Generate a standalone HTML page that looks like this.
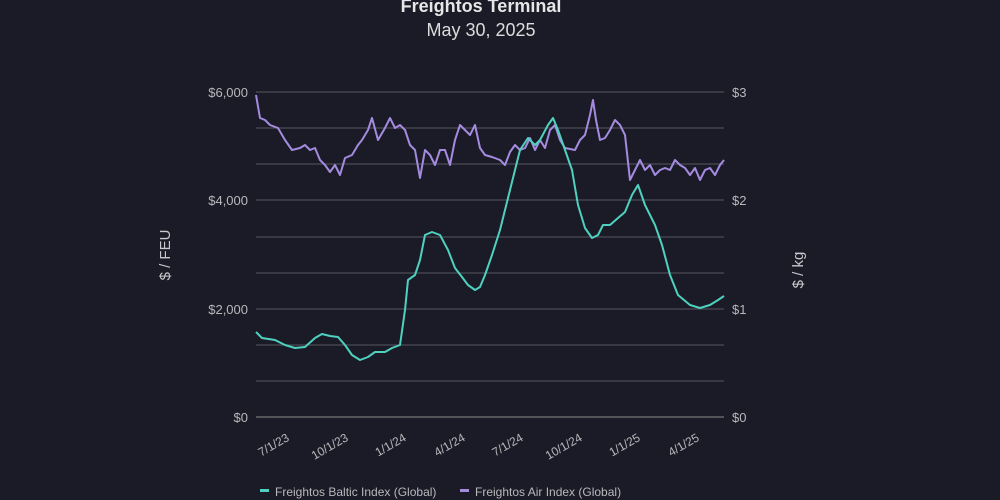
<!DOCTYPE html>
<html><head><meta charset="utf-8"><style>
html,body{margin:0;padding:0;background:#1a1b26;width:1000px;height:500px;overflow:hidden}
svg{display:block;font-family:"Liberation Sans",sans-serif}
</style></head><body>
<svg width="1000" height="500" viewBox="0 0 1000 500">
<rect width="1000" height="500" fill="#1a1b26"/>
<text x="481" y="12" text-anchor="middle" fill="#e6e6e6" font-size="18" font-weight="bold">Freightos Terminal</text>
<text x="481" y="36" text-anchor="middle" fill="#dcdcdc" font-size="18">May 30, 2025</text>
<g stroke="#4a4b55" stroke-width="1.2">
<line x1="256" x2="724" y1="92" y2="92"/><line x1="256" x2="724" y1="128" y2="128"/>
<line x1="256" x2="724" y1="164" y2="164"/><line x1="256" x2="724" y1="200" y2="200"/>
<line x1="256" x2="724" y1="237" y2="237"/><line x1="256" x2="724" y1="273" y2="273"/>
<line x1="256" x2="724" y1="309" y2="309"/><line x1="256" x2="724" y1="345" y2="345"/>
<line x1="256" x2="724" y1="381" y2="381"/><line x1="256" x2="724" y1="417" y2="417" stroke="#777"/>
</g>
<g fill="#b8b8bc" font-size="13">
<text x="248" y="97" text-anchor="end">$6,000</text>
<text x="248" y="205" text-anchor="end">$4,000</text>
<text x="248" y="314" text-anchor="end">$2,000</text>
<text x="248" y="422" text-anchor="end">$0</text>
<text x="732" y="97">$3</text><text x="732" y="205">$2</text>
<text x="732" y="314">$1</text><text x="732" y="422">$0</text>
</g>
<text transform="translate(170,255) rotate(-90)" text-anchor="middle" fill="#c8c8cc" font-size="15">$ / FEU</text>
<text transform="translate(803,270) rotate(-90)" text-anchor="middle" fill="#c8c8cc" font-size="15">$ / kg</text>
<g fill="#b8b8bc" font-size="12">
<text transform="translate(290,440) rotate(-30)" text-anchor="end">7/1/23</text>
<text transform="translate(349,440) rotate(-30)" text-anchor="end">10/1/23</text>
<text transform="translate(407,440) rotate(-30)" text-anchor="end">1/1/24</text>
<text transform="translate(466,440) rotate(-30)" text-anchor="end">4/1/24</text>
<text transform="translate(524,440) rotate(-30)" text-anchor="end">7/1/24</text>
<text transform="translate(583,440) rotate(-30)" text-anchor="end">10/1/24</text>
<text transform="translate(641,440) rotate(-30)" text-anchor="end">1/1/25</text>
<text transform="translate(700,440) rotate(-30)" text-anchor="end">4/1/25</text>
</g>
<polyline fill="none" stroke="#a58be0" stroke-width="2" stroke-linejoin="round" points="256,95 260,118 265,120 270,125 278,128 285,140 292,150 300,148 305,145 310,150 315,148 320,160 325,165 330,172 335,165 340,175 345,158 352,155 358,145 362,140 368,130 372,118 378,140 385,128 390,118 395,128 400,125 405,130 410,145 415,150 420,178 425,150 430,155 435,165 440,150 445,150 450,165 455,140 460,125 465,130 470,135 475,125 480,148 485,155 492,157 500,160 505,165 510,152 515,145 520,150 525,148 530,138 535,150 540,140 545,148 550,130 555,125 560,140 565,148 575,150 580,140 585,135 590,115 593,100 596,120 600,140 605,138 610,130 615,120 620,125 625,135 630,180 635,170 640,160 645,170 650,165 655,175 660,170 665,168 670,170 675,160 680,165 685,168 690,175 695,168 700,180 705,170 710,168 715,175 720,165 724,160"/>
<polyline fill="none" stroke="#4fd1bf" stroke-width="2" stroke-linejoin="round" points="256,332 262,338 275,340 285,345 295,348 305,347 315,338 322,334 330,336 338,337 345,345 352,355 360,360 368,357 375,352 385,352 392,348 400,345 405,310 408,280 415,275 420,260 425,235 432,232 440,235 448,250 455,268 462,277 468,285 475,290 480,287 485,275 492,255 500,230 505,210 510,190 515,170 520,150 528,138 535,145 540,140 548,125 553,118 558,130 565,150 572,170 578,205 585,228 592,238 598,235 603,225 610,225 618,218 625,212 632,195 638,185 645,205 655,225 662,245 670,275 678,295 690,305 700,308 710,305 718,300 724,296"/>
<rect x="260" y="489" width="9" height="3" fill="#4fd1bf"/>
<text x="275" y="496" fill="#b8b8bc" font-size="12">Freightos Baltic Index (Global)</text>
<rect x="460" y="489" width="9" height="3" fill="#a58be0"/>
<text x="475" y="496" fill="#b8b8bc" font-size="12">Freightos Air Index (Global)</text>
</svg>
</body></html>
